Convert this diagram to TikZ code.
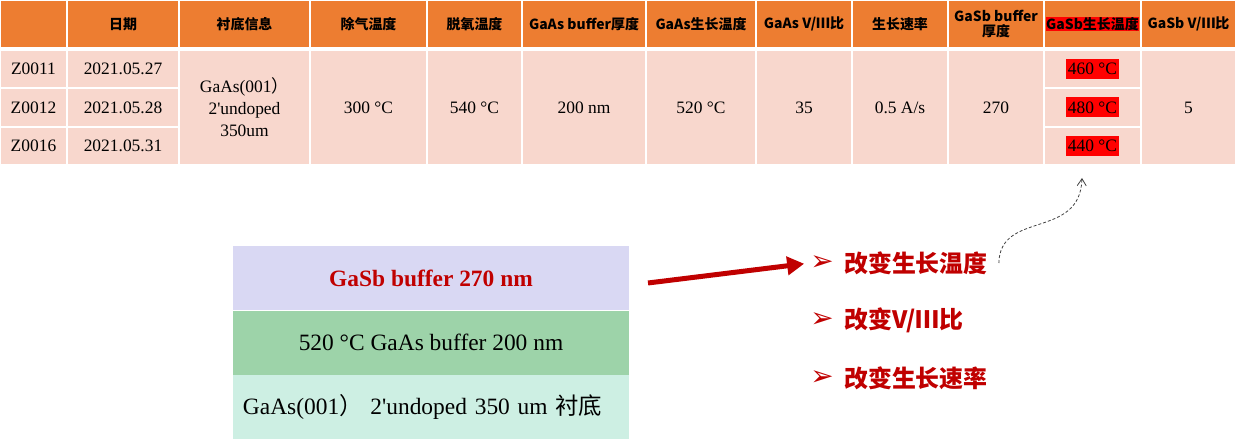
\documentclass[tikz,border=0pt]{standalone}
\usepackage{fontspec}
\setmainfont{Liberation Serif}
\newfontfamily\cjk{Noto Sans CJK SC}
\newfontfamily\dejavu{DejaVu Sans}
\usepackage{xcolor}
\usetikzlibrary{arrows.meta,positioning}

\definecolor{headorange}{HTML}{ED7D31}
\definecolor{bodypink}{HTML}{F8D7CD}
\definecolor{darkred}{HTML}{C00000}
\definecolor{lavender}{HTML}{D9D8F3}
\definecolor{gaasgreen}{HTML}{9DD3A9}
\definecolor{submint}{HTML}{CDEFE3}

\begin{document}
\begin{tikzpicture}[x=1bp, y=-1bp,
	headcell/.style={fill=headorange, draw=white, line width=1.5bp},
	bodycell/.style={fill=bodypink, draw=white, line width=1.5bp},
	headtxt/.style={font=\cjk\bfseries\fontsize{14}{16}\selectfont, align=center, inner sep=0pt},
	bodytxt/.style={font=\fontsize{17.5}{22}\selectfont, align=center, inner sep=0pt},
	hilite/.style={fill=red, text height=16bp, text depth=4bp, inner xsep=2bp, inner ysep=0pt},
	layer/.style={minimum width=396bp, minimum height=64.3bp, inner sep=0pt, font=\fontsize{23.5}{28}\selectfont},
	bulletmark/.style={font=\dejavu\fontsize{28}{30}\selectfont, text=darkred, inner sep=0pt},
	changetxt/.style={font=\cjk\bfseries\fontsize{24}{28}\selectfont, text=darkred, inner sep=0pt, anchor=west},
	bigarrow/.style={darkred, line width=5bp, -{Triangle[length=17bp,width=18bp]}},
	dashcurve/.style={black!75, line width=0.8bp, dash pattern=on 3bp off 2bp, -{Straight Barb[length=7bp,width=9bp]}}]

	\useasboundingbox (0,0) rectangle (1236,439);


	\foreach \xa/\xb/\hl/\txt [count=\i] in {0/67/none/{}, 67/179/none/日期, 179/310/none/衬底信息, 310/427/none/除气温度, 427/522/none/脱氧温度, 522/646/none/GaAs buffer厚度, 646/756/none/GaAs生长温度, 756/852/none/{GaAs V/Ⅲ比}, 852/948/none/生长速率, 948/1044/none/{GaSb buffer\\厚度}, 1044/1141/red/GaSb生长温度, 1141/1236/none/{GaSb V/Ⅲ比}}
	{
		\filldraw[headcell] (\xa,0) rectangle (\xb,48);
		\node[headtxt, fill=\hl] (h\i) at ({(\xa+\xb)/2},24) {\txt};
	}

	\foreach \ya/\yb/\id/\dt/\tc [count=\rw] in {50/88/Z0011/2021.05.27/460, 88/127/Z0012/2021.05.28/480, 127/165/Z0016/2021.05.31/440}
	{
		\filldraw[bodycell] (0,\ya) rectangle (67,\yb);
		\filldraw[bodycell] (67,\ya) rectangle (179,\yb);
		\filldraw[bodycell] (1044,\ya) rectangle (1141,\yb);
		\node[bodytxt] (id\rw) at (33.5,{(\ya+\yb)/2}) {\id};
		\node[bodytxt] (dt\rw) at (123,{(\ya+\yb)/2}) {\dt};
		\node[bodytxt, hilite] (tc\rw) at (1092.5,{(\ya+\yb)/2}) {\tc{} °C};
	}

	\foreach \xa/\xb/\txt [count=\i] in {179/310/{GaAs(001{\cjk ）}\\2\textquotesingle undoped\\350um}, 310/427/300 °C, 427/522/540 °C, 522/646/200 nm, 646/756/520 °C, 756/852/35, 852/948/{0.5 A/s}, 948/1044/270, 1141/1236/5}
	{
		\filldraw[bodycell] (\xa,50) rectangle (\xb,165);
		\node[bodytxt] (v\i) at ({(\xa+\xb)/2},107.5) {\txt};
	}


	\node[layer, fill=lavender, text=darkred, font=\bfseries\fontsize{23.5}{28}\selectfont] (gasb) at (431,278) {GaSb buffer 270 nm};
	\node[layer, fill=gaasgreen, below=0pt of gasb] (gaas) {520 °C GaAs buffer 200 nm};
	\node[layer, fill=submint, below=0pt of gaas, text width=376bp, inner xsep=10bp, align=left] (sub) {GaAs(001{\cjk ）}\ 2\textquotesingle undoped 350 um {\cjk 衬底}};


	\foreach \y/\txt [count=\i] in {263/改变生长温度, 320/{改变V/Ⅲ比}, 378/改变生长速率}
	{
		\node[bulletmark] (m\i) at (822,\y) {➢};
		\node[changetxt] (c\i) at (844,\y) {\txt};
	}


	\coordinate (arrtail) at (648,283);
	\coordinate (curvetip) at (1082,178);
	\draw[bigarrow, shorten >=6bp] (arrtail) -- (m1.west);
	\draw[dashcurve] ([xshift=11bp]c1.east) .. controls (1000,210) and (1080,240) .. (curvetip);


\end{tikzpicture}
\end{document}
